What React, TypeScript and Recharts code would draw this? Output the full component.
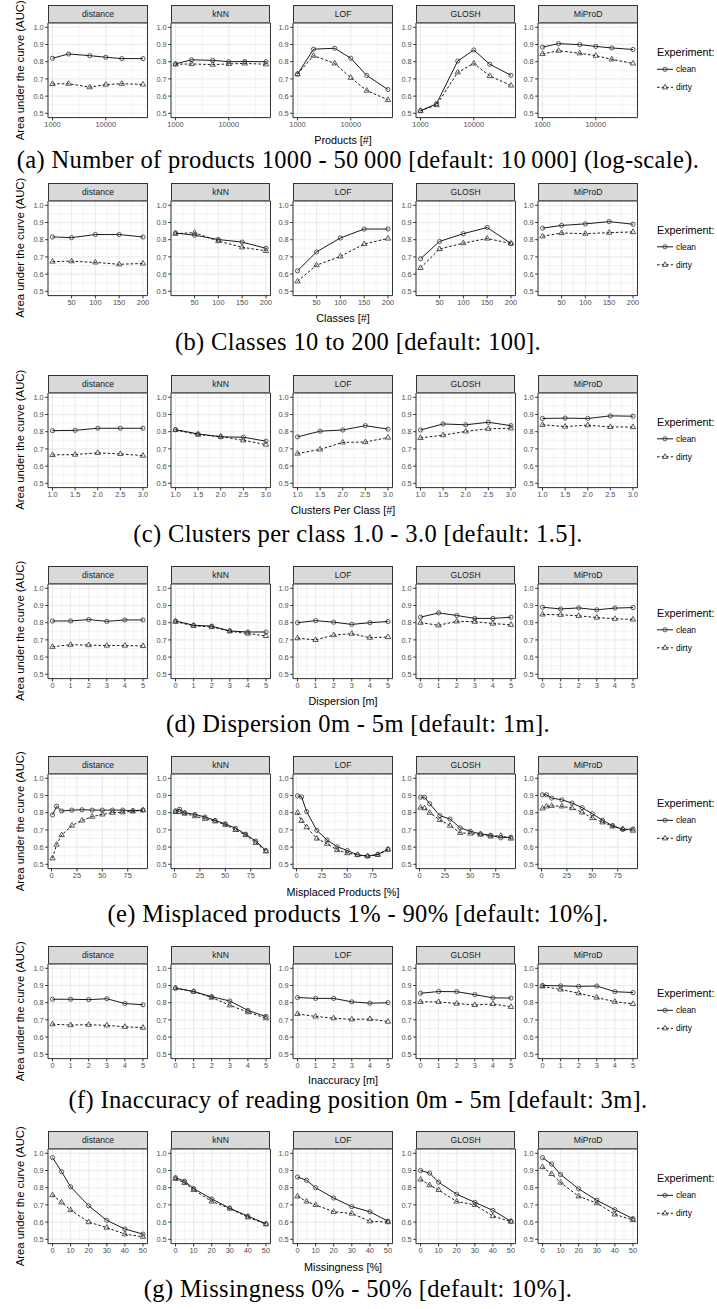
import React from "react";
import { LineChart, Line, XAxis, YAxis, CartesianGrid, ReferenceArea } from "recharts";

const METHODS = ["distance", "kNN", "LOF", "GLOSH", "MiProD"];

// (a) number of products, log scale
const PRODUCTS = [1000, 2000, 5000, 10000, 20000, 50000];
const PRODUCTS_CLEAN = [
  [0.820, 0.845, 0.835, 0.826, 0.818, 0.818],
  [0.787, 0.811, 0.808, 0.800, 0.801, 0.800],
  [0.728, 0.873, 0.878, 0.820, 0.720, 0.638],
  [0.514, 0.556, 0.804, 0.868, 0.785, 0.721],
  [0.885, 0.905, 0.899, 0.889, 0.880, 0.871],
];
const PRODUCTS_DIRTY = [
  [0.671, 0.672, 0.652, 0.667, 0.672, 0.668],
  [0.785, 0.787, 0.783, 0.787, 0.790, 0.785],
  [0.728, 0.835, 0.790, 0.707, 0.632, 0.578],
  [0.515, 0.548, 0.738, 0.790, 0.717, 0.662],
  [0.845, 0.864, 0.849, 0.835, 0.814, 0.790],
];

// (b) classes
const CLASSES = [10, 50, 100, 150, 200];
const CLASSES_CLEAN = [
  [0.816, 0.812, 0.830, 0.830, 0.816],
  [0.839, 0.826, 0.801, 0.786, 0.750],
  [0.619, 0.729, 0.810, 0.862, 0.862],
  [0.689, 0.790, 0.835, 0.871, 0.778],
  [0.867, 0.883, 0.892, 0.905, 0.890],
];
const CLASSES_DIRTY = [
  [0.673, 0.675, 0.668, 0.657, 0.662],
  [0.835, 0.841, 0.792, 0.756, 0.735],
  [0.558, 0.652, 0.703, 0.775, 0.807],
  [0.636, 0.746, 0.780, 0.807, 0.778],
  [0.820, 0.839, 0.835, 0.841, 0.845],
];

// (c) clusters per class
const CLUSTERS = [1.0, 1.5, 2.0, 2.5, 3.0];
const CLUSTERS_CLEAN = [
  [0.806, 0.808, 0.820, 0.820, 0.820],
  [0.812, 0.787, 0.770, 0.768, 0.745],
  [0.770, 0.803, 0.810, 0.835, 0.815],
  [0.810, 0.845, 0.840, 0.855, 0.835],
  [0.877, 0.879, 0.877, 0.892, 0.890],
];
const CLUSTERS_DIRTY = [
  [0.665, 0.667, 0.677, 0.671, 0.661],
  [0.810, 0.783, 0.772, 0.750, 0.725],
  [0.673, 0.697, 0.738, 0.740, 0.766],
  [0.764, 0.780, 0.802, 0.817, 0.820],
  [0.840, 0.830, 0.838, 0.828, 0.827],
];

// (d) dispersion
const DISPERSION = [0, 1, 2, 3, 4, 5];
const DISPERSION_CLEAN = [
  [0.810, 0.810, 0.818, 0.808, 0.816, 0.816],
  [0.810, 0.785, 0.780, 0.752, 0.746, 0.746],
  [0.800, 0.812, 0.803, 0.790, 0.800, 0.807],
  [0.832, 0.857, 0.842, 0.825, 0.825, 0.832],
  [0.890, 0.880, 0.886, 0.875, 0.885, 0.888],
];
const DISPERSION_DIRTY = [
  [0.660, 0.672, 0.670, 0.667, 0.667, 0.665],
  [0.806, 0.782, 0.775, 0.751, 0.737, 0.723],
  [0.710, 0.700, 0.728, 0.736, 0.713, 0.717],
  [0.800, 0.785, 0.808, 0.806, 0.795, 0.788],
  [0.848, 0.846, 0.840, 0.830, 0.823, 0.819],
];

// (e) misplaced products
const MISPLACED = [1, 5, 10, 20, 30, 40, 50, 60, 70, 80, 90];
const MISPLACED_CLEAN = [
  [0.787, 0.837, 0.810, 0.815, 0.817, 0.815, 0.815, 0.815, 0.815, 0.812, 0.815],
  [0.810, 0.820, 0.800, 0.790, 0.775, 0.755, 0.735, 0.710, 0.675, 0.635, 0.580],
  [0.898, 0.892, 0.806, 0.697, 0.642, 0.602, 0.580, 0.555, 0.547, 0.558, 0.588],
  [0.890, 0.890, 0.852, 0.783, 0.763, 0.712, 0.692, 0.677, 0.669, 0.654, 0.658],
  [0.904, 0.904, 0.885, 0.875, 0.856, 0.829, 0.794, 0.756, 0.725, 0.702, 0.706],
];
const MISPLACED_DIRTY = [
  [0.535, 0.615, 0.670, 0.725, 0.755, 0.777, 0.790, 0.800, 0.803, 0.808, 0.815],
  [0.805, 0.805, 0.795, 0.780, 0.765, 0.750, 0.730, 0.700, 0.670, 0.625, 0.575],
  [0.800, 0.752, 0.716, 0.650, 0.620, 0.583, 0.565, 0.555, 0.548, 0.555, 0.585],
  [0.830, 0.826, 0.800, 0.758, 0.725, 0.683, 0.679, 0.673, 0.662, 0.667, 0.650],
  [0.825, 0.837, 0.840, 0.837, 0.827, 0.802, 0.769, 0.744, 0.721, 0.706, 0.696],
];

// (f) inaccuracy
const INACCURACY = [0, 1, 2, 3, 4, 5];
const INACCURACY_CLEAN = [
  [0.820, 0.820, 0.818, 0.823, 0.795, 0.788],
  [0.885, 0.865, 0.835, 0.810, 0.755, 0.720],
  [0.830, 0.825, 0.825, 0.805, 0.797, 0.800],
  [0.855, 0.865, 0.864, 0.847, 0.828, 0.827],
  [0.900, 0.898, 0.895, 0.897, 0.864, 0.859],
];
const INACCURACY_DIRTY = [
  [0.675, 0.670, 0.672, 0.668, 0.660, 0.655],
  [0.885, 0.865, 0.830, 0.785, 0.745, 0.710],
  [0.735, 0.720, 0.710, 0.703, 0.705, 0.690],
  [0.805, 0.805, 0.795, 0.787, 0.793, 0.776],
  [0.895, 0.877, 0.855, 0.830, 0.806, 0.793],
];

// (g) missingness
const MISSING = [0, 5, 10, 20, 30, 40, 50];
const MISSING_CLEAN = [
  [0.975, 0.893, 0.805, 0.695, 0.610, 0.560, 0.530],
  [0.858, 0.838, 0.795, 0.735, 0.680, 0.635, 0.590],
  [0.862, 0.843, 0.800, 0.740, 0.690, 0.660, 0.605],
  [0.900, 0.885, 0.832, 0.762, 0.715, 0.668, 0.605],
  [0.975, 0.937, 0.877, 0.793, 0.727, 0.672, 0.620],
];
const MISSING_DIRTY = [
  [0.757, 0.715, 0.670, 0.600, 0.568, 0.530, 0.515],
  [0.852, 0.828, 0.788, 0.720, 0.680, 0.628, 0.588],
  [0.750, 0.720, 0.700, 0.660, 0.650, 0.605, 0.600],
  [0.848, 0.815, 0.787, 0.720, 0.700, 0.635, 0.603],
  [0.920, 0.880, 0.830, 0.750, 0.710, 0.645, 0.612],
];

const Y_TICKS = [0.5, 0.6, 0.7, 0.8, 0.9, 1.0];
const Y_MINOR = [0.55, 0.65, 0.75, 0.85, 0.95];
const Y_DOMAIN = [0.475, 1.025];

const int = (v: number) => String(v);
const one = (v: number) => v.toFixed(1);

const ROWS = [
  { x: PRODUCTS, clean: PRODUCTS_CLEAN, dirty: PRODUCTS_DIRTY, domain: [822, 60800], ticks: [1000, 10000], minor: [3162.3, 31622.8], log: true, fmt: int,
    title: "Products [#]", caption: "(a) Number of products 1000 - 50\u2009000 [default: 10\u2009000] (log-scale)." },
  { x: CLASSES, clean: CLASSES_CLEAN, dirty: CLASSES_DIRTY, domain: [0.5, 209.5], ticks: [50, 100, 150, 200], minor: [25, 75, 125, 175], log: false, fmt: int,
    title: "Classes [#]", caption: "(b) Classes 10 to 200 [default: 100]." },
  { x: CLUSTERS, clean: CLUSTERS_CLEAN, dirty: CLUSTERS_DIRTY, domain: [0.9, 3.1], ticks: [1, 1.5, 2, 2.5, 3], minor: [1.25, 1.75, 2.25, 2.75], log: false, fmt: one,
    title: "Clusters Per Class [#]", caption: "(c) Clusters per class 1.0 - 3.0 [default: 1.5]." },
  { x: DISPERSION, clean: DISPERSION_CLEAN, dirty: DISPERSION_DIRTY, domain: [-0.25, 5.25], ticks: [0, 1, 2, 3, 4, 5], minor: [0.5, 1.5, 2.5, 3.5, 4.5], log: false, fmt: int,
    title: "Dispersion [m]", caption: "(d) Dispersion 0m - 5m [default: 1m]." },
  { x: MISPLACED, clean: MISPLACED_CLEAN, dirty: MISPLACED_DIRTY, domain: [-3.45, 94.45], ticks: [0, 25, 50, 75], minor: [12.5, 37.5, 62.5, 87.5], log: false, fmt: int,
    title: "Misplaced Products [%]", caption: "(e) Misplaced products 1% - 90% [default: 10%]." },
  { x: INACCURACY, clean: INACCURACY_CLEAN, dirty: INACCURACY_DIRTY, domain: [-0.25, 5.25], ticks: [0, 1, 2, 3, 4, 5], minor: [0.5, 1.5, 2.5, 3.5, 4.5], log: false, fmt: int,
    title: "Inaccuracy [m]", caption: "(f) Inaccuracy of reading position 0m - 5m [default: 3m]." },
  { x: MISSING, clean: MISSING_CLEAN, dirty: MISSING_DIRTY, domain: [-2.5, 52.5], ticks: [0, 10, 20, 30, 40, 50], minor: [5, 15, 25, 35, 45], log: false, fmt: int,
    title: "Missingness [%]", caption: "(g) Missingness 0% - 50% [default: 10%]." },
];

// layout
const PLOT_TOP = [23, 200.5, 392.5, 583.5, 774, 964, 1149];
const TITLE_OFF = [26, 27, 27, 27, 27, 25, 27];
const CAPTION_Y = [161, 343, 535, 725, 915, 1101, 1290];
const PANEL_LEFT = [48.3, 170.8, 293.3, 415.8, 538.3];
const PLOT_W = 99.5;
const PLOT_H = 94.6;
const STRIP_H = 18;
const AXIS_W = 28;
const AXIS_H = 18;
const PAD = 2;
const SANS = "'Liberation Sans', Arial, Helvetica, sans-serif";
const INK = "#333333";

const tick = { fontSize: 7.4, fill: "#4D4D4D", fontFamily: SANS };

function CircleDot(p: any) {
  if (p.cx == null || p.cy == null) return <g key={`c${p.index}`} />;
  return <circle key={`c${p.index}`} cx={p.cx} cy={p.cy} r={2.1} fill="none" stroke={INK} strokeWidth={0.8} />;
}

function TriDot(p: any) {
  if (p.cx == null || p.cy == null) return <g key={`t${p.index}`} />;
  const { cx, cy } = p;
  const d = `M${cx},${cy - 3} L${cx + 2.7},${cy + 1.6} L${cx - 2.7},${cy + 1.6} Z`;
  return <path key={`t${p.index}`} d={d} fill="none" stroke={INK} strokeWidth={0.8} strokeLinejoin="miter" />;
}

function Panel({ r, m }: { r: number; m: number }) {
  const row = ROWS[r];
  const data = row.x.map((x, i) => ({ x, clean: row.clean[m][i], dirty: row.dirty[m][i] }));
  const left = PANEL_LEFT[m];
  const top = PLOT_TOP[r];
  return (
    <>
      <div style={{
        position: "absolute", left, top: top - STRIP_H, width: PLOT_W, height: STRIP_H,
        boxSizing: "border-box", background: "#D9D9D9", border: `1px solid ${INK}`,
        fontFamily: SANS, fontSize: 8.6, color: "#1A1A1A", display: "flex",
        alignItems: "center", justifyContent: "center",
      }}>
        {METHODS[m]}
      </div>
      <div style={{ position: "absolute", left: left - AXIS_W, top: top - PAD }}>
        <LineChart width={AXIS_W + PLOT_W + PAD} height={PAD + PLOT_H + AXIS_H} data={data}
                   margin={{ top: PAD, right: PAD, left: 0, bottom: 0 }}>
          <CartesianGrid verticalValues={row.minor} horizontalValues={Y_MINOR} stroke="#EBEBEB" strokeWidth={0.6} />
          <CartesianGrid stroke="#EBEBEB" strokeWidth={1.1} />
          <XAxis type="number" dataKey="x" scale={row.log ? "log" : "linear"} domain={row.domain}
                 ticks={row.ticks} interval={0} allowDataOverflow height={AXIS_H}
                 tickSize={2.8} tickMargin={1.8} tick={tick} tickLine={{ stroke: INK }} axisLine={false}
                 tickFormatter={row.fmt} />
          <YAxis type="number" domain={Y_DOMAIN} ticks={Y_TICKS} interval={0} allowDataOverflow width={AXIS_W}
                 tickSize={2.8} tickMargin={1.5} tick={tick} tickLine={{ stroke: INK }} axisLine={false}
                 tickFormatter={one} />
          <ReferenceArea x1={row.domain[0]} x2={row.domain[1]} y1={Y_DOMAIN[0]} y2={Y_DOMAIN[1]}
                         fill="none" stroke={INK} strokeWidth={1} ifOverflow="visible" />
          <Line dataKey="clean" type="linear" stroke="#000" strokeWidth={0.9} dot={CircleDot}
                activeDot={false} isAnimationActive={false} />
          <Line dataKey="dirty" type="linear" stroke="#000" strokeWidth={0.9} strokeDasharray="2.6 2"
                dot={TriDot} activeDot={false} isAnimationActive={false} />
        </LineChart>
      </div>
    </>
  );
}

function Labels() {
  return (
    <svg width={717} height={1309} style={{ position: "absolute", left: 0, top: 0, pointerEvents: "none" }}>
      {ROWS.map((row, r) => {
        const top = PLOT_TOP[r];
        const c = top + PLOT_H / 2;
        return (
          <g key={r}>
            <text transform={`translate(23.5, ${c}) rotate(-90)`} textAnchor="middle"
                  fontFamily={SANS} fontSize={11.3} fill="#000">Area under the curve (AUC)</text>
            <text x={343} y={top + PLOT_H + TITLE_OFF[r]} textAnchor="middle" fontFamily={SANS} fontSize={10.8} fill="#000">
              {row.title}
            </text>
            <text x={358} y={CAPTION_Y[r] + 7} textAnchor="middle" fontFamily="'Liberation Serif', 'Times New Roman', serif"
                  fontSize={24.5} letterSpacing={0.35} fill="#000">{row.caption}</text>
            <text x={657} y={c - 18 + 4} fontFamily={SANS} fontSize={10.8} fill="#000">Experiment:</text>
            <line x1={657} x2={673} y1={c - 1} y2={c - 1} stroke="#000" strokeWidth={0.9} />
            <circle cx={665} cy={c - 1} r={2.1} fill="none" stroke={INK} strokeWidth={0.8} />
            <text x={676} y={c - 1 + 3} fontFamily={SANS} fontSize={8.4} fill="#000">clean</text>
            <line x1={657} x2={673} y1={c + 17} y2={c + 17} stroke="#000" strokeWidth={0.9} strokeDasharray="2.6 2" />
            <path d={`M665,${c + 14} L667.7,${c + 18.6} L662.3,${c + 18.6} Z`} fill="none" stroke={INK} strokeWidth={0.8} />
            <text x={676} y={c + 17 + 3} fontFamily={SANS} fontSize={8.4} fill="#000">dirty</text>
          </g>
        );
      })}
    </svg>
  );
}

export default function App() {
  return (
    <div style={{ position: "absolute", left: 0, top: 0, width: 717, height: 1309, background: "#fff", overflow: "hidden" }}>
      {ROWS.map((_, r) => METHODS.map((__, m) => <Panel key={`${r}-${m}`} r={r} m={m} />))}
      <Labels />
    </div>
  );
}
